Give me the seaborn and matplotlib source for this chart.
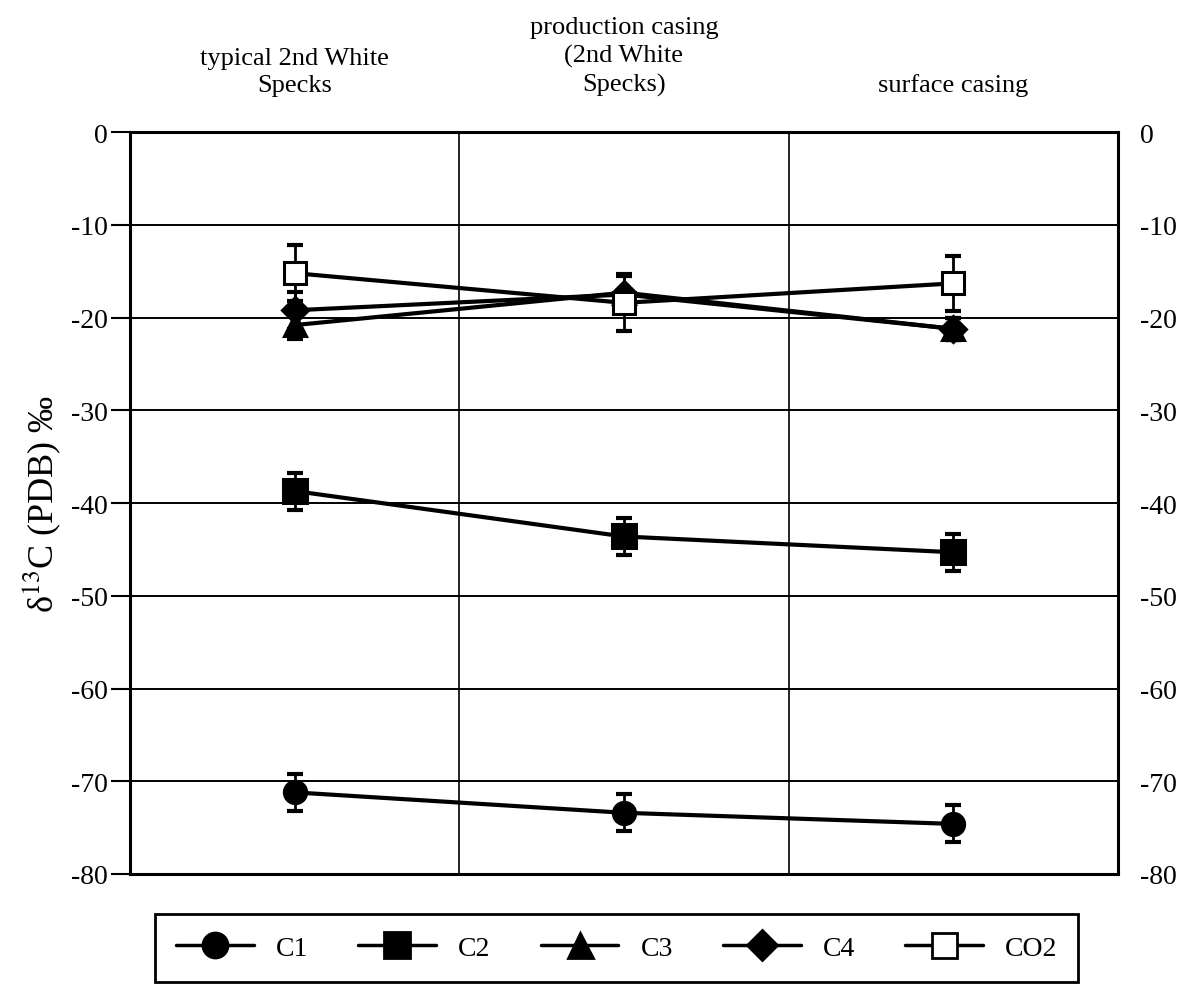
import numpy as np
import pandas as pd
import matplotlib
matplotlib.use("Agg")
import matplotlib.pyplot as plt
import seaborn as sns
from matplotlib.lines import Line2D

categories = ["typical 2nd White\nSpecks", "production casing\n(2nd White\nSpecks)", "surface casing"]
series = ["C1", "C2", "C3", "C4", "CO2"]
c1 = [-71.2, -73.4, -74.6]
c2 = [-38.7, -43.6, -45.3]
c3 = [-20.8, -17.3, -21.2]
c4 = [-19.2, -17.5, -21.2]
co2 = [-15.2, -18.4, -16.3]
err_c1 = [2, 2, 2]
err_c2 = [2, 2, 2]
err_c3 = [1.5, 2, 1.2]
err_c4 = [2, 2, 1.2]
err_co2 = [3, 3, 3]
yticks = [0, -10, -20, -30, -40, -50, -60, -70, -80]

values = {"C1": c1, "C2": c2, "C3": c3, "C4": c4, "CO2": co2}
errors = {"C1": err_c1, "C2": err_c2, "C3": err_c3, "C4": err_c4, "CO2": err_co2}

rows = []
for s in series:
    for i, cat in enumerate(categories):
        rows.append({"pos": i, "cat": cat, "series": s, "value": values[s][i], "err": errors[s][i]})
df = pd.DataFrame(rows)

sns.set_theme(style="white")
plt.rcParams["font.family"] = ["Liberation Serif", "DejaVu Serif"]
plt.rcParams["mathtext.fontset"] = "stix"
for k in ["text.color", "axes.labelcolor", "xtick.color", "ytick.color"]:
    plt.rcParams[k] = "black"

fig = plt.figure(figsize=(11.93, 9.87), dpi=100)
ax = fig.add_axes([0.109, 0.1135, 0.828, 0.7515])

markers = {"C1": "o", "C2": "s", "C3": "^", "C4": "D", "CO2": "s"}
msize = {"C1": 16, "C2": 17, "C3": 16, "C4": 13, "CO2": 16}
face = {"C1": "black", "C2": "black", "C3": "black", "C4": "black", "CO2": "white"}

# error bars
for s in series:
    d = df[df.series == s]
    ax.errorbar(d["pos"], d["value"], yerr=d["err"], fmt="none", ecolor="black",
                elinewidth=2, capsize=6, capthick=3, zorder=3)

sns.lineplot(data=df, x="pos", y="value", hue="series", style="series",
             palette={s: "black" for s in series}, dashes=False, markers=False,
             linewidth=3, legend=False, ax=ax, zorder=4)
for s in series:
    d = df[df.series == s]
    ax.plot(d["pos"], d["value"], linestyle="none", marker=markers[s], markersize=msize[s],
            markerfacecolor=face[s], markeredgecolor="black", markeredgewidth=2.2, zorder=5)

ax.set_xlim(-0.5, 2.5)
ax.set_ylim(-80, 0)
ax.set_yticks(yticks)
ax.set_yticklabels([str(t) for t in yticks], fontsize=20)
ax.tick_params(axis="y", direction="out", length=14, width=1.5, color="black", pad=2, left=True)
ax.xaxis.tick_top()
ax.set_xticks(range(len(categories)))
ax.set_xticklabels(categories, fontsize=19, linespacing=1.33)
ax.tick_params(axis="x", length=0, pad=26)
ax.set_xlabel("")
ax.set_ylabel("δ$^{13}$C (PDB) ‰", fontsize=26, labelpad=6)

for y in yticks[1:-1]:
    ax.axhline(y, color="black", lw=1.4, zorder=1)
for x in [0.5, 1.5]:
    ax.axvline(x, color="black", lw=1.2, zorder=1)
for sp in ax.spines.values():
    sp.set_color("black")
    sp.set_linewidth(2.2)

ax2 = ax.twinx()
ax2.set_ylim(-80, 0)
ax2.set_yticks(yticks)
ax2.set_yticklabels([str(t) for t in yticks], fontsize=20)
ax2.tick_params(axis="y", length=0, pad=16)
ax2.grid(False)
for sp in ax2.spines.values():
    sp.set_visible(False)

handles = [Line2D([0], [0], color="black", lw=2.5, marker=markers[s], markersize=msize[s] + 2,
                  markerfacecolor=face[s], markeredgecolor="black", markeredgewidth=2)
           for s in series]
leg = fig.legend(handles, series, loc="center", bbox_to_anchor=(0.517, 0.0385), ncol=5,
                 fontsize=20, frameon=True, fancybox=False, edgecolor="black", framealpha=1,
                 handlelength=2.8, columnspacing=1.8, borderpad=0.75)
leg.get_frame().set_linewidth(2)

fig.savefig("out.png", dpi=100)
